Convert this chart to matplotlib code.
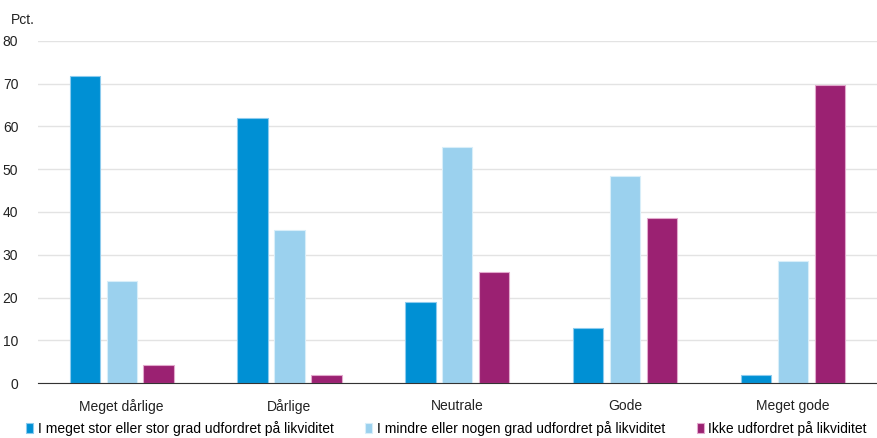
import numpy as np
import matplotlib
matplotlib.use("Agg")
import matplotlib.pyplot as plt

plt.rcParams['font.family'] = ['Liberation Sans', 'DejaVu Sans']

categories = ['Meget dårlige', 'Dårlige', 'Neutrale', 'Gode', 'Meget gode']
series_names = ['I meget stor eller stor grad udfordret på likviditet',
                'I mindre eller nogen grad udfordret på likviditet',
                'Ikke udfordret på likviditet']
stor_grad = [71.8, 61.9, 18.9, 12.8, 1.9]
mindre_grad = [23.8, 35.9, 55.2, 48.5, 28.5]
ikke_udfordret = [4.3, 1.9, 25.9, 38.6, 69.6]
colors = ['#0090d4', '#9bd1ee', '#9b2172']
edges = ['#8ccbee', '#d8eef9', '#e2a9cd']

fig = plt.figure(figsize=(8.77, 4.38), dpi=100)
ax = fig.add_axes([0.043, 0.125, 0.957, 0.782])

x = np.arange(len(categories))
w = 0.18
offs = [-0.22, 0, 0.22]
for vals, off, c, ec, name in zip([stor_grad, mindre_grad, ikke_udfordret], offs, colors, edges, series_names):
	ax.bar(x + off, vals, w, color=c, edgecolor=ec, linewidth=0.8, label=name, zorder=3)

ax.set_xlim(-0.5, len(categories) - 0.5)
ax.set_ylim(0, 80)
ax.set_yticks(range(0, 81, 10))
ax.yaxis.grid(True, color='#e3e3e3', linewidth=1, zorder=0)
ax.set_xticks(x)
ax.set_xticklabels(categories)
ax.tick_params(axis='both', length=0, labelsize=10, colors='#222222')
ax.tick_params(axis='x', pad=11)
ax.tick_params(axis='y', pad=14)
for s in ['top', 'right', 'left']:
	ax.spines[s].set_visible(False)
ax.spines['bottom'].set_color('#333333')
ax.spines['bottom'].set_zorder(4)

fig.text(0.012, 0.955, 'Pct.', fontsize=10, color='#222222', va='center')

handles, labels = ax.get_legend_handles_labels()
leg = fig.legend(handles, labels, loc='center', bbox_to_anchor=(0.509, 0.022), ncol=3, frameon=False,
                 fontsize=10, handlelength=0.5, handleheight=0.7, handletextpad=0.3, columnspacing=2.3)

fig.savefig('out.png', dpi=100)
